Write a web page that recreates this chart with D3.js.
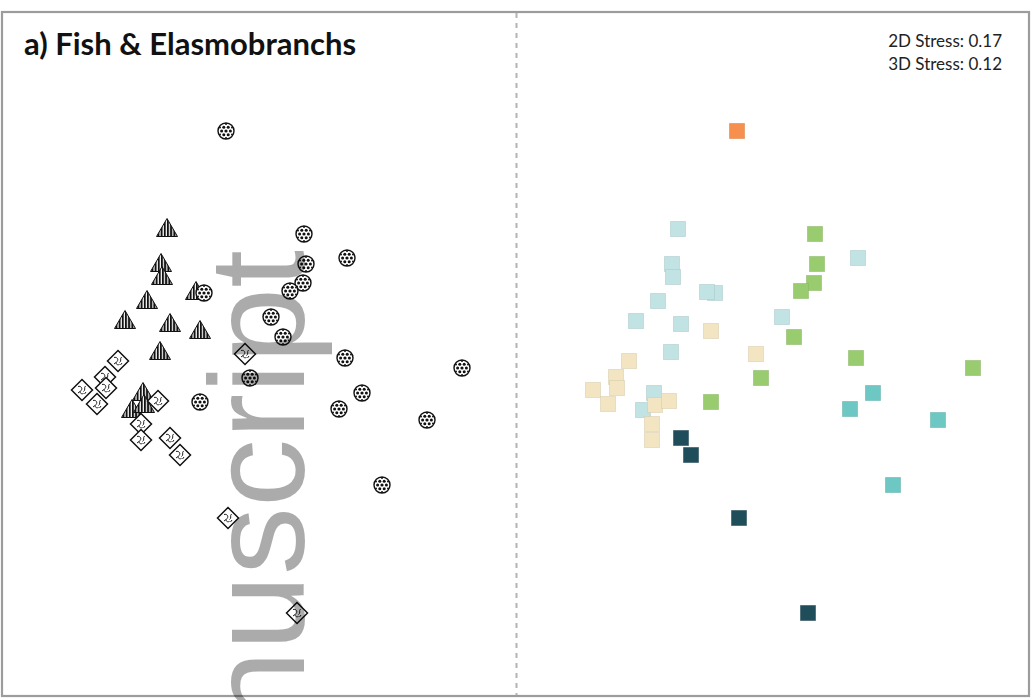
<!DOCTYPE html>
<html>
<head>
<meta charset="utf-8">
<script src="https://cdn.jsdelivr.net/npm/d3@7"></script>
<style>
  html, body { margin: 0; padding: 0; background: #fff; }
  svg { display: block; }
</style>
</head>
<body>
<svg id="chart" width="1034" height="700"></svg>
<script>
// ---- Data (NMDS ordination) ----
const nmds1 = [
  -0.170, 0.220, 0.435, 0.230, 0.215, 0.150, -0.280, 0.055, 0.115, 0.425, -0.050, 1.010, -0.300, 0.510, 0.395, 0.835, 0.610,
  -0.465, -0.495, -0.490, -0.320, -0.565, -0.675, -0.450, -0.300, -0.500, -0.585, -0.640, -0.580,
  -0.710, -0.775, -0.890, -0.770, -0.815, -0.510, -0.595, -0.595, -0.450, -0.400, -0.075, -0.160, 0.185
];
const nmds2 = [
  1.195, 0.680, 0.560, 0.530, 0.435, 0.395, 0.385, 0.265, 0.165, 0.060, -0.040, 0.010, -0.160, -0.115, -0.195, -0.250, -0.575,
  0.705, 0.530, 0.465, 0.390, 0.345, 0.245, 0.230, 0.195, 0.090, -0.115, -0.200, -0.175,
  0.045, -0.035, -0.100, -0.090, -0.170, -0.155, -0.270, -0.350, -0.340, -0.425, 0.080, -0.740, -1.215
];
// symbol grouping (left panel)
const shapeGroup = [
  "circle","circle","circle","circle","circle","circle","circle","circle","circle","circle","circle","circle","circle","circle","circle","circle","circle",
  "triangle","triangle","triangle","triangle","triangle","triangle","triangle","triangle","triangle","triangle","triangle","triangle",
  "diamond","diamond","diamond","diamond","diamond","diamond","diamond","diamond","diamond","diamond","diamond","diamond","diamond"
];
// colour grouping (right panel)
const colourGroup = [
  "orange","green","lightteal","green","green","green","lightteal","lightteal","green","green","green","green","green","teal","teal","teal","teal",
  "lightteal","lightteal","lightteal","lightteal","lightteal","lightteal","lightteal","beige","lightteal","lightteal","lightteal","beige",
  "beige","beige","beige","beige","beige","beige","beige","beige","dark","dark","beige","dark","dark"
];
const groupNames = ["orange","green","lightteal","beige","teal","dark"];
const groupColours = ["#f7904f","#99cc6e","#c1e3e4","#f3e5c2","#6dc8c4","#1f4d5a"];

const titleText = "a) Fish & Elasmobranchs";
const stressLabels = ["2D Stress: 0.17", "3D Stress: 0.12"];
const watermarkText = "anuscript";

const points = nmds1.map((v, i) => ({x: v, y: nmds2[i], shape: shapeGroup[i], colour: colourGroup[i]}));

// ---- Layout ----
const svg = d3.select("#chart");
const frame = {left: 2, top: 12, right: 1029, bottom: 696};
const split = 516.5;
const panelShift = 511;

const xLeft = d3.scaleLinear().domain([-1, 1]).range([60, 460]);
const xRight = d3.scaleLinear().domain([-1, 1]).range([60 + panelShift, 460 + panelShift]);
const yScale = d3.scaleLinear().domain([-1, 1]).range([570, 170]);
const colour = d3.scaleOrdinal().domain(groupNames).range(groupColours);

// patterns
const defs = svg.append("defs");
const stripes = defs.append("pattern").attr("id", "stripes")
  .attr("patternUnits", "userSpaceOnUse").attr("width", 3.2).attr("height", 4);
stripes.append("rect").attr("width", 3.2).attr("height", 4).attr("fill", "#fff");
stripes.append("rect").attr("width", 2).attr("height", 4).attr("fill", "#111");

// frame + divider
svg.append("rect").attr("x", frame.left).attr("y", frame.top)
  .attr("width", frame.right - frame.left).attr("height", frame.bottom - frame.top)
  .attr("fill", "#fff").attr("stroke", "#9c9c9c").attr("stroke-width", 2.2);
svg.append("line").attr("x1", split).attr("x2", split).attr("y1", frame.top + 1).attr("y2", frame.bottom - 1)
  .attr("stroke", "#b4b4b4").attr("stroke-width", 2).attr("stroke-dasharray", "5,5");

// title and stress
svg.append("text").attr("x", 24).attr("y", 55)
  .style("font-family", "Lato, 'Open Sans', sans-serif").style("font-weight", 700)
  .style("font-size", "31px").attr("fill", "#111").text(titleText);
svg.selectAll("text.stress").data(stressLabels).enter().append("text").attr("class", "stress")
  .attr("x", 1002).attr("y", (d, i) => 47 + i * 22.5).attr("text-anchor", "end")
  .style("font-family", "Lato, 'Open Sans', sans-serif").style("font-size", "17px")
  .attr("fill", "#222").text(d => d);

// ---- Left panel symbols ----
const left = svg.append("g");
const order = {triangle: 0, diamond: 1, circle: 2};
const leftPts = points.slice().sort((a, b) => order[a.shape] - order[b.shape]);
const dotOffsets = [[0,0,1.6],[4.4,0,1.5],[-4.4,0,1.5],[2.2,3.8,1.5],[-2.2,3.8,1.5],[2.2,-3.8,1.5],[-2.2,-3.8,1.5],
                    [0,7,1.0],[0,-7,1.0],[6,3.5,1.0],[-6,3.5,1.0],[6,-3.5,1.0],[-6,-3.5,1.0]];

leftPts.forEach(d => {
  const g = left.append("g").attr("transform", `translate(${xLeft(d.x)},${yScale(d.y)})`);
  if (d.shape === "circle") {
    g.append("circle").attr("r", 8).attr("fill", "#fff").attr("stroke", "#111").attr("stroke-width", 1.4);
    dotOffsets.forEach(o => g.append("circle").attr("cx", o[0]).attr("cy", o[1]).attr("r", o[2]).attr("fill", "#111"));
  } else if (d.shape === "triangle") {
    g.append("path").attr("d", "M0,-10.5 L10.5,7.5 L-10.5,7.5 Z")
      .attr("fill", "url(#stripes)").attr("stroke", "#111").attr("stroke-width", 1);
  } else {
    g.append("path").attr("d", "M0,-10.5 L10.5,0 L0,10.5 L-10.5,0 Z")
      .attr("fill", "#fff").attr("stroke", "#111").attr("stroke-width", 1.5);
    g.append("path").attr("d", "M-4,-3.5 C-1,-4.5 1,-1.5 -1,0.5 C-3,2.5 -1,4.5 1.5,3.5 M3.5,-4 C1.5,-2 4,0 1.5,1.5 M-4,3 L-2,1.5 M4,2 L2.5,4")
      .attr("fill", "none").attr("stroke", "#222").attr("stroke-width", 1);
  }
});

// ---- Right panel squares ----
const sq = 15;
svg.append("g").selectAll("rect").data(points).enter().append("rect")
  .attr("x", d => xRight(d.x) - sq / 2).attr("y", d => yScale(d.y) - sq / 2)
  .attr("width", sq).attr("height", sq)
  .attr("fill", d => colour(d.colour))
  .attr("stroke", d => d3.color(colour(d.colour)).darker(0.4)).attr("stroke-opacity", 0.5).attr("stroke-width", 1);

// ---- Watermark ----
svg.append("text").attr("transform", "translate(304,250) rotate(-90)")
  .attr("text-anchor", "end")
  .style("font-family", "'Liberation Sans', Arial, sans-serif").style("font-size", "136px")
  .attr("fill", "#000").attr("fill-opacity", 0.33).text(watermarkText);
</script>
</body>
</html>
